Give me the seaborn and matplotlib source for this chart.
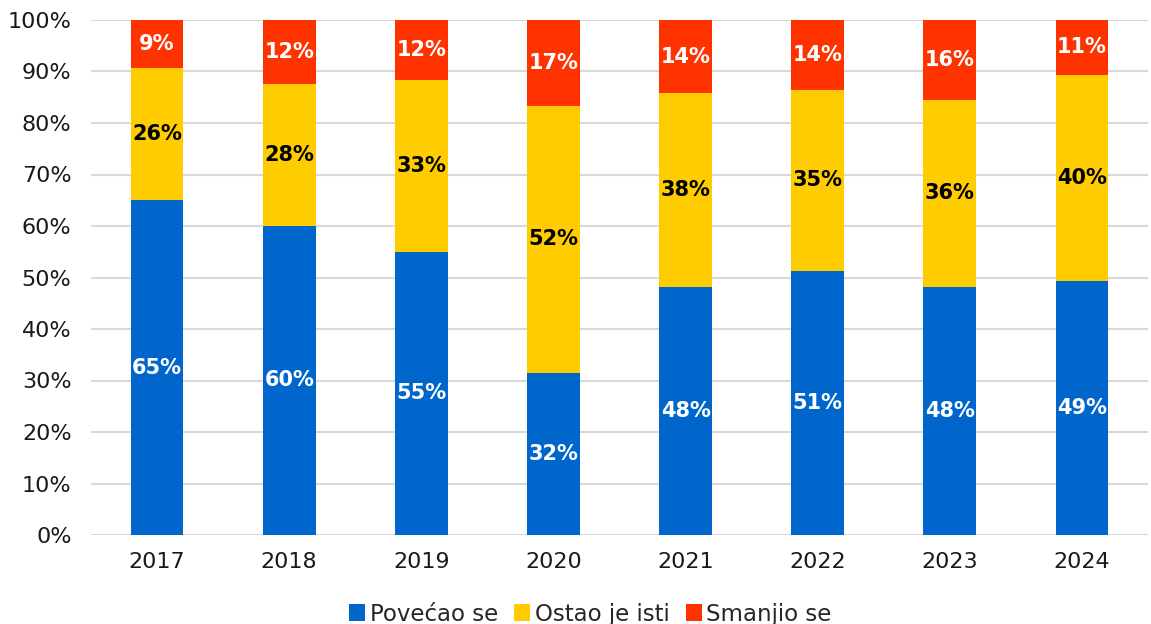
import matplotlib
matplotlib.use("Agg")
import matplotlib.pyplot as plt
import seaborn as sns
import numpy as np
import pandas as pd
from matplotlib.patches import Patch

years = ["2017", "2018", "2019", "2020", "2021", "2022", "2023", "2024"]
povecao = [65.0, 60.0, 55.0, 31.5, 48.2, 51.3, 48.2, 49.3]
ostao = [25.7, 27.6, 33.3, 51.8, 37.6, 35.1, 36.3, 40.1]
smanjio = [9.3, 12.4, 11.7, 16.7, 14.2, 13.6, 15.5, 10.6]
series_names = ["Povećao se", "Ostao je isti", "Smanjio se"]
colors = ["#0066CC", "#FFCC00", "#FF3300"]
label_colors = ["white", "black", "white"]

sns.set_theme(style="white")
plt.rcParams["font.family"] = ["DejaVu Sans"]

fig = plt.figure(figsize=(11.51, 6.24), dpi=100)
ax = fig.add_axes([91/1151, 1 - 535/624, (1148 - 91)/1151, (535 - 20)/624])

vals = [np.array(povecao), np.array(ostao), np.array(smanjio)]
cums = np.cumsum(vals, axis=0)

# draw from top (cumulative) down so stacked appearance results
for k in [2, 1, 0]:
    df = pd.DataFrame({"year": years, "value": cums[k]})
    sns.barplot(data=df, x="year", y="value", color=colors[k], width=0.4,
                saturation=1, ax=ax, zorder=2, linewidth=0, edgecolor="none")

for k in range(3):
    for i in range(len(years)):
        v = vals[k][i]
        center = cums[k][i] - v / 2
        ax.text(i, center, f"{int(np.floor(v + 0.5))}%", ha="center", va="center",
                color=label_colors[k], fontsize=15, fontweight="bold", zorder=5)

ax.set_ylim(0, 100)
ax.set_xlim(-0.5, len(years) - 0.5)
ax.set_yticks(np.arange(0, 101, 10))
ax.set_yticklabels([f"{t}%" for t in range(0, 101, 10)])
ax.set_xlabel("")
ax.set_ylabel("")
ax.yaxis.grid(True, color="#D9D9D9", linewidth=1.5, zorder=0)
ax.set_axisbelow(True)
for s in ax.spines.values():
    s.set_visible(False)
ax.tick_params(axis="both", length=0, labelsize=16, colors="#1a1a1a")
ax.tick_params(axis="y", pad=14)
ax.tick_params(axis="x", pad=12)

handles = [Patch(facecolor=c, edgecolor="none") for c in colors]
fig.legend(handles, series_names, loc="center", bbox_to_anchor=(0.513, 0.016),
           ncol=3, frameon=False, fontsize=16.5, handlelength=0.7,
           handleheight=0.7, handletextpad=0.2, columnspacing=0.7)

fig.savefig("out.png", dpi=100)
